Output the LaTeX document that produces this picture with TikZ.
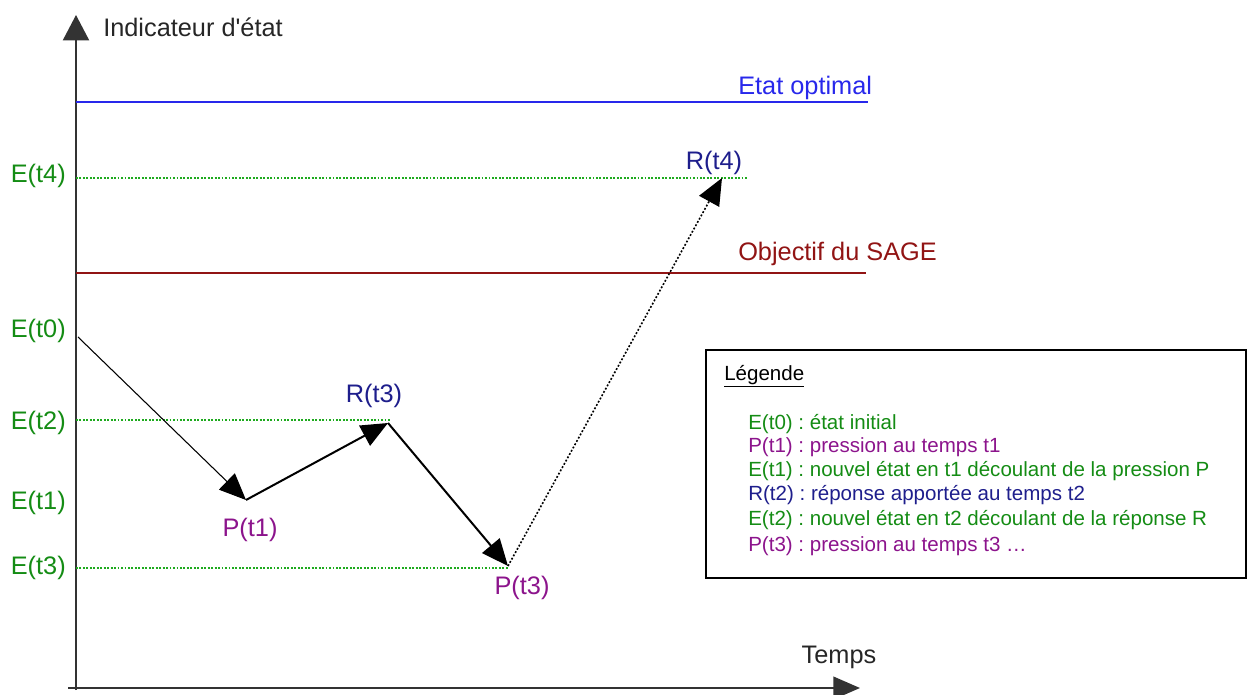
\documentclass[tikz,border=0pt]{standalone}
\usepackage{fontspec}
\setmainfont{Liberation Sans}
\usetikzlibrary{arrows.meta}
\frenchspacing
\definecolor{eg}{RGB}{20,140,20}
\definecolor{gl}{RGB}{30,170,30}
\definecolor{pp}{RGB}{140,20,140}
\definecolor{nb}{RGB}{30,30,140}
\definecolor{lb}{RGB}{40,40,235}
\definecolor{dr}{RGB}{145,20,20}
\begin{document}
\begin{tikzpicture}[x=0.75pt,y=-0.75pt,
  lab/.style={inner sep=0pt,font=\fontsize{19}{22}\selectfont},
  leg/.style={inner sep=0pt,anchor=west,font=\fontsize{15.4}{18}\selectfont},
  axis/.style={line width=1.5pt,draw={black!80}},
  gdot/.style={gl,line width=1.1pt,dash pattern=on 1.4pt off 1.2pt},
  tipbig/.style={-{Triangle[length=20pt,width=17pt]}},
  thinarr/.style={tipbig,line width=0.8pt},
  thickarr/.style={tipbig,line width=1.5pt},
  dotarr/.style={tipbig,line width=1.2pt,dash pattern=on 1.4pt off 1.4pt}]
\useasboundingbox (0,0) rectangle (1247,695);

% axes
\coordinate (yb) at (76,690);
\coordinate (yt) at (76,15);
\coordinate (xl) at (68,688);
\coordinate (xr) at (860,688);
\draw[axis,-{Triangle[length=19pt,width=19.5pt]}] (yb) -- (yt);
\draw[axis,-{Triangle[length=20pt,width=17pt]}] (xl) -- (xr);
\node[lab,anchor=west,black!85] (ylab) at (103,27) {Indicateur d\textquotesingle état};
\node[lab,black!85] (xlab) at (839,657) {Temps};

% reference lines
\coordinate (opt0) at (76,102); \coordinate (opt1) at (868,102);
\draw[lb,line width=1.5pt] (opt0) -- (opt1);
\node[lab,anchor=west,lb] (optlab) at (738,88) {Etat optimal};
\coordinate (obj0) at (76,273); \coordinate (obj1) at (866,273);
\draw[dr,line width=1.5pt] (obj0) -- (obj1);
\node[lab,anchor=west,dr] (objlab) at (738,254) {Objectif du SAGE};

% state points
\coordinate (t0) at (78,337);
\coordinate (p1) at (246,500);
\coordinate (r3) at (388,423);
\coordinate (p3) at (508,566);
\coordinate (r4) at (722,178);

% green dotted levels
\coordinate (e4a) at (76,178); \coordinate (e4b) at (748,178);
\coordinate (e2a) at (76,420); \coordinate (e2b) at (390,420);
\coordinate (e3a) at (76,568); \coordinate (e3b) at (508,568);
\draw[gdot] (e4a) -- (e4b);
\draw[gdot] (e2a) -- (e2b);
\draw[gdot] (e3a) -- (e3b);

% E labels
\node[lab,anchor=east,eg] (E4) at (66,176) {E(t4)};
\node[lab,anchor=east,eg] (E0) at (66,331) {E(t0)};
\node[lab,anchor=east,eg] (E2) at (66,423) {E(t2)};
\node[lab,anchor=east,eg] (E1) at (66,503) {E(t1)};
\node[lab,anchor=east,eg] (E3) at (66,568) {E(t3)};

% other labels
\node[lab,pp] (P1) at (250,530) {P(t1)};
\node[lab,pp] (P3) at (522,588) {P(t3)};
\node[lab,nb] (R3) at (374,396) {R(t3)};
\node[lab,nb] (R4) at (714,163) {R(t4)};

% trajectory
\draw[thinarr] (t0) -- (p1);
\draw[thickarr] (p1) -- (r3);
\draw[thickarr] (r3) -- (p3);
\draw[dotarr] (p3) -- (r4);

% legend
\node[draw,line width=1.5pt,anchor=north west,inner sep=0pt,
  minimum width=405pt,minimum height=171pt] (legend) at (705,349) {};
\node[leg] (lt) at (724,376) {\underline{Légende}};
\node[leg,eg] (l1) at (748,424) {E(t0) : état initial};
\node[leg,pp] (l2) at (748,447) {P(t1) : pression au temps t1};
\node[leg,eg] (l3) at (748,471) {E(t1) : nouvel état en t1 découlant de la pression P};
\node[leg,nb] (l4) at (748,495) {R(t2) : réponse apportée au temps t2};
\node[leg,eg] (l5) at (748,520) {E(t2) : nouvel état en t2 découlant de la réponse R};
\node[leg,pp] (l6) at (748,546) {P(t3) : pression au temps t3 …};
\end{tikzpicture}
\end{document}
